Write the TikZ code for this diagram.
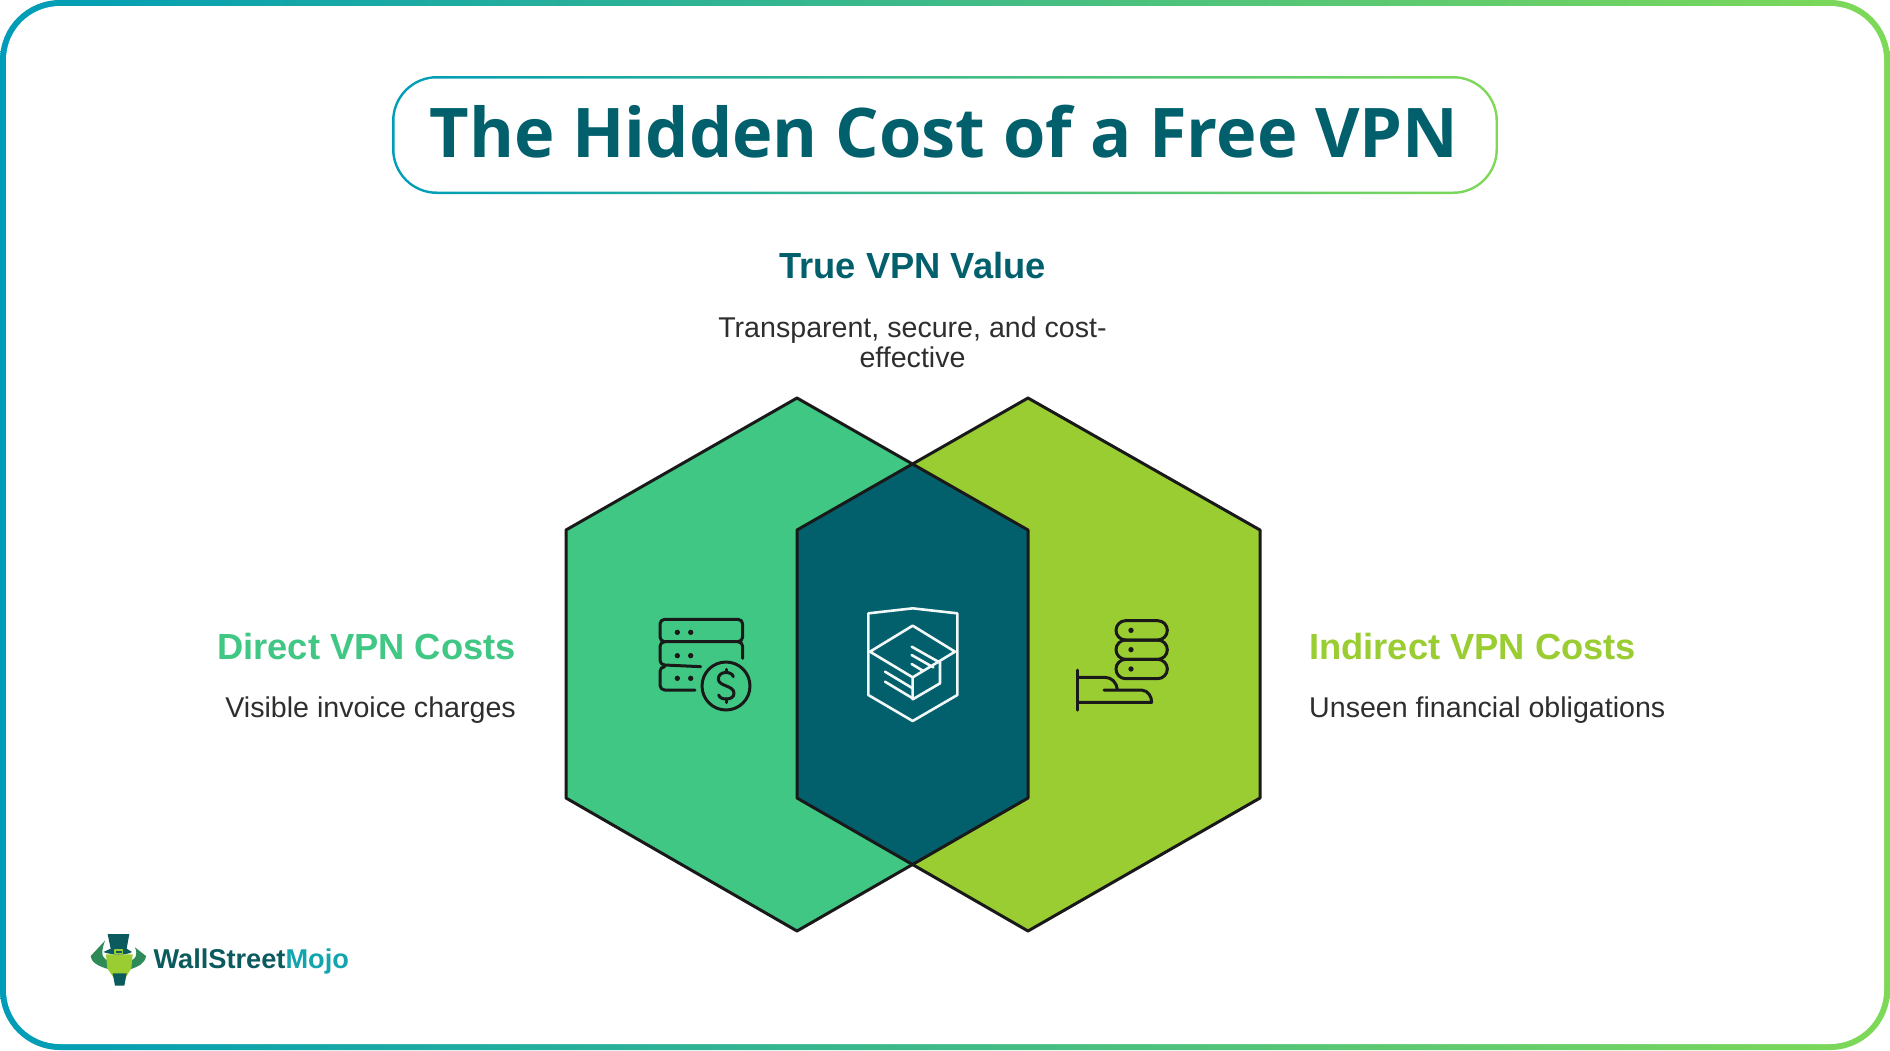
\documentclass[tikz,border=0pt]{standalone}
\usepackage{fontspec}
\setmainfont{Liberation Sans}
\newfontfamily\titlefont{Open Sans}
\usetikzlibrary{positioning}
\definecolor{teal}{HTML}{02606D}
\definecolor{frameL}{HTML}{009DB8}
\definecolor{frameR}{HTML}{7ED957}
\definecolor{mint}{HTML}{40C783}
\definecolor{lime}{HTML}{9ACD32}
\definecolor{bodytext}{HTML}{2E2E2E}
\definecolor{logoteal}{HTML}{12A5AD}
\definecolor{logodark}{HTML}{0B5A5E}
\definecolor{logogreen}{HTML}{2E8B57}
\newcommand{\fsize}[1]{\fontsize{#1}{#1}\selectfont}

\begin{document}
\begin{tikzpicture}[x=1pt, y=-1pt, line join=round,
    frameshade/.style={left color=frameL, right color=frameR, draw=none},
    hexline/.style={draw=black!90, line width=3pt},
    heading/.style={inner sep=0pt, font=\fsize{36.3}\bfseries},
    descr/.style={inner sep=0pt, font=\fsize{28.6}, text=bodytext, align=center},
    icondark/.style={draw=black!90, line width=3pt, line cap=round},
    iconlight/.style={draw=white!95!teal, line width=2.6pt, line cap=round}]
  \useasboundingbox (0,0) rectangle (1890,1050);
  \fill[white] (0,0) rectangle (1890,1050);

  % Frame
  \shade[frameshade, rounded corners=60pt] (0,0) rectangle (1890,1050);
  \fill[white, rounded corners=54pt] (6,6) rectangle (1884,1044);

  % Title
  \node[frameshade, rounded corners=45pt, minimum width=1106pt, minimum height=118pt, inner sep=0pt] (pill) at (945,135) {};
  \node[fill=white, rounded corners=42.5pt, minimum width=1101pt, minimum height=113pt, inner sep=0pt] (pillinner) at (pill) {};
  \node[inner sep=0pt, text=teal, font=\titlefont\fsize{68.5}\bfseries] (title) at (944,132) {The Hidden Cost of a Free VPN};

  % Hexagons
  \fill[mint] (797,398) -- (1028,530) -- (1028,798) -- (797,931) -- (566,798) -- (566,530) -- cycle;
  \fill[lime] (1028,398) -- (1260,530) -- (1260,798) -- (1028,931) -- (797,798) -- (797,530) -- cycle;
  \fill[teal] (912.5,463) -- (1028,530) -- (1028,798) -- (912.5,865) -- (797,798) -- (797,530) -- cycle;
  \draw[hexline] (797,398) -- (1028,530) -- (1028,798) -- (797,931) -- (566,798) -- (566,530) -- cycle;
  \draw[hexline] (1028,398) -- (1260,530) -- (1260,798) -- (1028,931) -- (797,798) -- (797,530) -- cycle;

  % Labels
  \node[heading, text=teal] (truehead) at (912.5,266) {True VPN Value};
  \node[descr, below=37pt of truehead] (truetext) {Transparent, secure, and cost-\\[1.4pt]effective};
  \node[heading, text=mint, anchor=east] (directhead) at (516,647) {Direct VPN Costs};
  \node[descr, anchor=east] (directtext) at (516,710) {Visible invoice charges};
  \node[heading, text=lime, anchor=west] (indirecthead) at (1309,647) {Indirect VPN Costs};
  \node[descr, anchor=west] (indirecttext) at (1309,710) {Unseen financial obligations};

  % Server icon
  \begin{scope}[shift={(620,580)}, scale=1/3]
    \draw[icondark] (134,118) -- (354,118) arc (-90:0:14) -- (368,171) arc (0:90:14) -- (134,185) arc (90:180:14) -- (120,132) arc (180:270:14) -- cycle;
    \draw[icondark] (134,185) arc (-90:-180:14) -- (120,241) arc (180:90:14) -- (242,260);
    \draw[icondark] (354,185) arc (-90:0:14) -- (368,235);
    \draw[icondark] (134,260) arc (-90:-180:14) -- (120,316) arc (180:90:14) -- (225,330);
    \foreach \y in {157,227,295} {
      \fill[black!90] (172,\y) circle (8);
      \fill[black!90] (212,\y) circle (8);
    }
    \draw[icondark] (318,318) circle (72);
    \draw[icondark] (340,290) .. controls (335,272) and (295,272) .. (295,297) .. controls (295,320) and (342,315) .. (342,340) .. controls (342,362) and (300,362) .. (296,345);
    \draw[icondark] (318,268) -- (318,278) (318,356) -- (318,368);
  \end{scope}

  % Shield icon
  \begin{scope}[shift={(840,590)}, scale=1/3]
    \draw[iconlight] (85,70) -- (218,55) -- (352,70) -- (352,315) -- (218,393) -- (85,315) -- cycle;
    \draw[iconlight] (90,185) -- (218,107) -- (345,185) -- (218,262) -- cycle;
    \draw[iconlight] (218,262) -- (218,328) -- (300,280) -- (300,215);
    \draw[iconlight] (135,245) -- (218,295) (135,275) -- (218,325);
    \draw[iconlight] (215,170) -- (300,218) (215,195) -- (280,232) (215,222) -- (250,243);
  \end{scope}

  % Hand icon
  \begin{scope}[shift={(840,590)}, scale=1/3]
    \foreach \y in {92,150,208} {
      \draw[icondark] (857,\y) -- (953,\y) arc (-90:90:29) -- (857,\y+58) arc (90:270:29) -- cycle;
      \fill[black!90] (873,\y+29) circle (8);
    }
    \draw[icondark] (713,240) -- (713,360);
    \draw[icondark] (713,262) -- (795,262) .. controls (815,262) and (830,278) .. (832,298);
    \draw[icondark] (792,300) -- (905,300) .. controls (925,302) and (935,320) .. (935,337) -- (713,337);
  \end{scope}

  % Logo
  \begin{scope}[shift={(70,920)}, scale=1/3]
    \fill[logogreen] (105,62) -- (62,108) .. controls (62,125) and (85,140) .. (118,148) -- (118,122) .. controls (100,118) and (88,108) .. cycle;
    \fill[logogreen] (195,82) -- (228,108) .. controls (225,130) and (205,140) .. (180,148) -- (180,122) .. controls (195,118) and (205,108) .. cycle;
    \fill[lime] (108,103) -- (188,103) -- (184,145) -- (165,175) -- (132,175) -- (112,145) -- cycle;
    \fill[logodark] (128,160) -- (170,160) -- (163,197) -- (135,197) -- cycle;
    \fill[logodark] (113,42) -- (178,42) -- (170,86) -- (186,96) .. controls (170,106) and (125,106) .. (100,96) -- (122,86) -- cycle;
    \draw[lime, line width=1.4pt] (135,90) rectangle (158,100);
    \node[anchor=base west, inner sep=0pt, font=\fsize{27.2}\bfseries, text=logodark] (logoname) at (250,145) {WallStreet\textcolor{logoteal}{Mojo}};
  \end{scope}
\end{tikzpicture}
\end{document}
